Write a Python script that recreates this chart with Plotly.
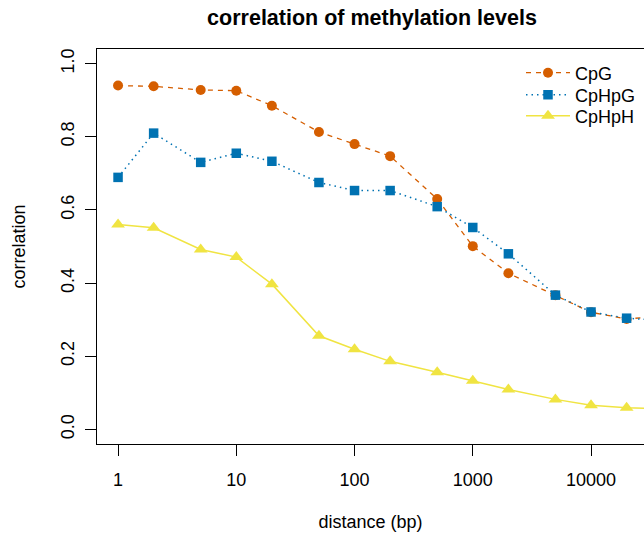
import plotly.graph_objects as go

distance = [1, 2, 5, 10, 20, 50, 100, 200, 500, 1000, 2000, 5000, 10000, 20000, 50000]
cpg = [0.940, 0.938, 0.928, 0.926, 0.885, 0.813, 0.780, 0.747, 0.630, 0.501, 0.427, 0.367, 0.320, 0.302, 0.312]
cphpg = [0.689, 0.810, 0.730, 0.755, 0.733, 0.675, 0.653, 0.653, 0.609, 0.552, 0.480, 0.367, 0.321, 0.304, 0.296]
cphph = [0.560, 0.551, 0.492, 0.471, 0.397, 0.256, 0.219, 0.186, 0.156, 0.133, 0.109, 0.082, 0.066, 0.059, 0.055]
series_names = ["CpG", "CpHpG", "CpHpH"]
x_tickvals = [1, 10, 100, 1000, 10000]
x_ticktext = ["1", "10", "100", "1000", "10000"]
y_tickvals = [0.0, 0.2, 0.4, 0.6, 0.8, 1.0]

FONT = "Liberation Sans, Arial, Helvetica, sans-serif"
W, H = 644, 538
L, R, T, B = 97, 0, 49, 94
PW, PH = W - L - R, H - T - B

fig = go.Figure()
fig.add_trace(go.Scatter(
    x=distance, y=cpg, name=series_names[0], mode="lines+markers",
    line=dict(color="#D55E00", width=1.3, dash="5px,5px"),
    marker=dict(symbol="circle", size=10, color="#D55E00"),
    legend="legend",
))
fig.add_trace(go.Scatter(
    x=distance, y=cphpg, name=series_names[1], mode="lines+markers",
    line=dict(color="#0072B2", width=1.5, dash="1.5px,4px"),
    marker=dict(symbol="square", size=9.5, color="#0072B2"),
    legend="legend2",
))
fig.add_trace(go.Scatter(
    x=distance, y=cphph, name=series_names[2], mode="lines+markers",
    line=dict(color="#F0E442", width=1.5),
    marker=dict(symbol="triangle-up", size=12, color="#F0E442"),
    legend="legend3",
))

def leg(yc):
    return dict(x=(521 - L) / PW, xanchor="left",
                y=(H - B - yc) / PH, yanchor="middle",
                bgcolor="rgba(0,0,0,0)", borderwidth=0,
                font=dict(size=18, family=FONT, color="black"),
                itemwidth=44, itemsizing="trace")

fig.update_layout(
    width=W, height=H,
    margin=dict(l=L, r=R, t=T, b=B),
    paper_bgcolor="white", plot_bgcolor="white",
    font=dict(family=FONT, size=18, color="black"),
    title=dict(text="<b>correlation of methylation levels</b>",
               x=(372 - L) / PW, xref="paper", xanchor="center",
               y=1 - 17 / H, yref="container", yanchor="middle",
               font=dict(size=21.5, family=FONT, color="black")),
    showlegend=True,
    legend=leg(73), legend2=leg(95), legend3=leg(116),
)

fig.update_xaxes(
    type="log", range=[-0.178, 4.448],
    tickvals=x_tickvals, ticktext=x_ticktext,
    ticks="outside", ticklen=11, tickwidth=1, tickcolor="black",
    showline=True, linecolor="black", linewidth=1, mirror=True,
    showgrid=False, zeroline=False,
    ticklabelstandoff=8,
    title=dict(text="distance (bp)", standoff=26, font=dict(size=18)),
)
fig.update_yaxes(
    range=[-0.04, 1.04],
    tickvals=y_tickvals, tickformat=".1f", tickangle=-90,
    ticks="outside", ticklen=11, tickwidth=1, tickcolor="black",
    showline=True, linecolor="black", linewidth=1, mirror=False,
    showgrid=False, zeroline=False,
    ticklabelstandoff=4,
    title=dict(text="correlation", standoff=27, font=dict(size=18)),
)

fig.write_html("out.html")
